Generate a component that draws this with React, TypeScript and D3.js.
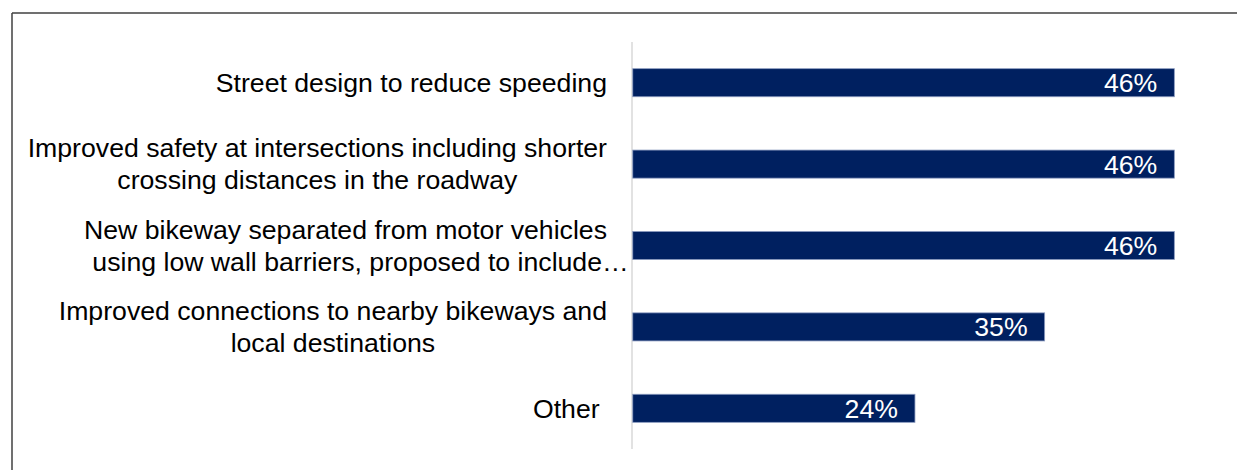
import React, { useEffect, useRef } from "react";
import * as d3 from "d3";

const categories: string[][] = [
  ["Street design to reduce speeding"],
  ["Improved safety at intersections including shorter", "crossing distances in the roadway"],
  ["New bikeway separated from motor vehicles", "using low wall barriers, proposed to include…"],
  ["Improved connections to nearby bikeways and", "local destinations"],
  ["Other "],
];
const values: number[] = [46, 46, 46, 35, 24];
const valueLabels: string[] = ["46%", "46%", "46%", "35%", "24%"];

const W = 1237;
const H = 470;
const FONT = "'Liberation Sans', Arial, sans-serif";
const FS = 26.67;

export default function App() {
  const ref = useRef<SVGSVGElement | null>(null);

  useEffect(() => {
    const svg = d3.select(ref.current);
    svg.selectAll("*").remove();

    const keys = categories.map((_, i) => String(i));
    const y = d3.scaleBand<string>().domain(keys).range([42, 449]).paddingInner(0.655).paddingOuter(0.3275);
    const x = d3.scaleLinear().domain([0, 50]).range([632, 1221.5]);

    // frame
    svg.append("line").attr("x1", 12).attr("x2", W).attr("y1", 13).attr("y2", 13)
      .attr("stroke", "#404040").attr("stroke-width", 1.5);
    svg.append("line").attr("x1", 12).attr("x2", 12).attr("y1", 13).attr("y2", H)
      .attr("stroke", "#404040").attr("stroke-width", 1.5);

    // axis line
    svg.append("line").attr("x1", x(0)).attr("x2", x(0)).attr("y1", 42).attr("y2", 449)
      .attr("stroke", "#d9d9d9").attr("stroke-width", 1.5);

    // bars
    svg.selectAll("rect.bar").data(values).join("rect")
      .attr("class", "bar")
      .attr("x", x(0) + 0.75)
      .attr("y", (_, i) => y(keys[i])!)
      .attr("width", (d) => x(d) - x(0) - 0.75)
      .attr("height", y.bandwidth())
      .attr("fill", "#002060")
      .attr("stroke", "#8c9cc0")
      .attr("stroke-width", 0.8);

    // value labels
    svg.selectAll("text.val").data(valueLabels).join("text")
      .attr("class", "val")
      .attr("x", (_, i) => x(values[i]) - 17)
      .attr("y", (_, i) => y(keys[i])! + y.bandwidth() / 2 + 9.5)
      .attr("text-anchor", "end")
      .attr("fill", "#ffffff")
      .attr("font-family", FONT)
      .attr("font-size", FS)
      .text((d) => d);

    // category labels
    const lineH = 32;
    const labelRight = 607;
    categories.forEach((lines, i) => {
      const cy = y(keys[i])! + y.bandwidth() / 2;
      const g = svg.append("g");
      const first = g.append("text")
        .attr("font-family", FONT).attr("font-size", FS).attr("fill", "#000")
        .style("white-space", "pre")
        .text(lines[0]);
      const w0 = (first.node() as SVGTextElement).getComputedTextLength();
      const center = labelRight - w0 / 2;
      const n = lines.length;
      lines.forEach((ln, j) => {
        const t = j === 0 ? first : g.append("text")
          .attr("font-family", FONT).attr("font-size", FS).attr("fill", "#000")
          .style("white-space", "pre")
          .text(ln);
        const shift = ln.endsWith("…") ? 15 : 0;
        t.attr("text-anchor", "middle")
          .attr("x", center + shift)
          .attr("y", cy + (j - (n - 1) / 2) * lineH + 9.3);
      });
    });
  }, []);

  return (
    <svg
      ref={ref}
      width={W}
      height={H}
      style={{ position: "absolute", left: 0, top: 0, background: "#ffffff" }}
    />
  );
}
